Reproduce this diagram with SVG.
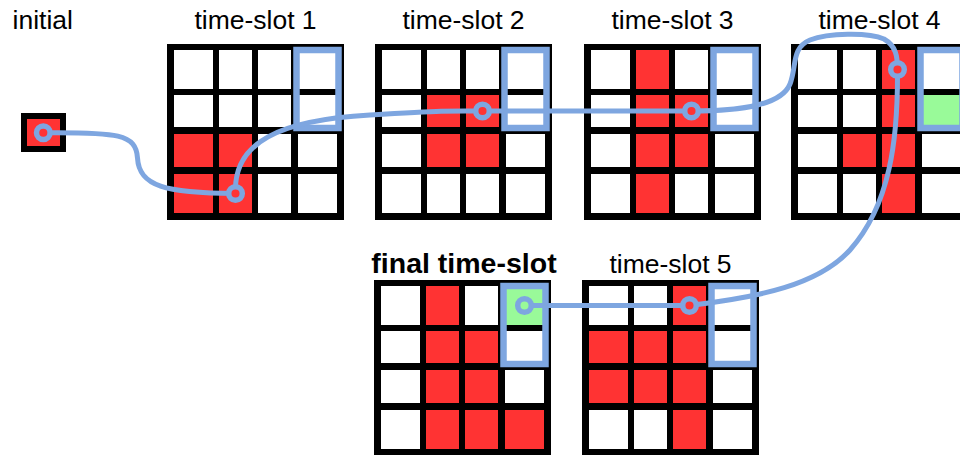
<svg xmlns="http://www.w3.org/2000/svg" width="960" height="455" viewBox="0 0 960 455">
  <style>
    .lbl { font-family: "Liberation Sans", Arial, Helvetica, sans-serif; font-size: 26.5px; fill: #000; }
    .lbl.c { text-anchor: middle; }
    .lbl.b { font-weight: bold; font-size: 28.5px; }
    .frame { fill: #000; }
    .w { fill: #fff; }
    .r { fill: #ff3333; }
    .g { fill: #99fa99; }
    .sel { fill: none; stroke: #7ea6e0; stroke-width: 6.5; }
    .route { fill: none; stroke: #7ea6e0; stroke-width: 5; stroke-linecap: round; stroke-linejoin: round; }
    .stop { stroke: #7ea6e0; stroke-width: 5.5; }
  </style>

  <!-- starting cell -->
  <g id="initial">
    <text class="lbl" x="12.5" y="29">initial</text>
    <rect class="frame" x="21" y="113" width="45" height="39"/>
    <rect class="r" x="27" y="119" width="33" height="27"/>
  </g>

  <!-- 4x4 boards: cols x=7,52,91,131 (w 39,33,33,39); rows y=6,51,90,130 (h 39,32,33,39) -->
  <g id="ts1">
    <text class="lbl c" x="255.5" y="29">time-slot 1</text>
    <g transform="translate(167,44)">
      <rect class="frame" width="177" height="176"/>
      <rect class="w" x="7" y="6" width="39" height="39"/><rect class="w" x="52" y="6" width="33" height="39"/><rect class="w" x="91" y="6" width="33" height="39"/><rect class="w" x="131" y="6" width="39" height="39"/>
      <rect class="w" x="7" y="51" width="39" height="32"/><rect class="w" x="52" y="51" width="33" height="32"/><rect class="w" x="91" y="51" width="33" height="32"/><rect class="w" x="131" y="51" width="39" height="32"/>
      <rect class="r" x="7" y="90" width="39" height="33"/><rect class="r" x="52" y="90" width="33" height="33"/><rect class="w" x="91" y="90" width="33" height="33"/><rect class="w" x="131" y="90" width="39" height="33"/>
      <rect class="r" x="7" y="130" width="39" height="39"/><rect class="r" x="52" y="130" width="33" height="39"/><rect class="w" x="91" y="130" width="33" height="39"/><rect class="w" x="131" y="130" width="39" height="39"/>
      <rect class="sel" x="129.5" y="6" width="42" height="78"/>
    </g>
  </g>

  <g id="ts2">
    <text class="lbl c" x="463.5" y="29">time-slot 2</text>
    <g transform="translate(375,44)">
      <rect class="frame" width="177" height="176"/>
      <rect class="w" x="7" y="6" width="39" height="39"/><rect class="w" x="52" y="6" width="33" height="39"/><rect class="w" x="91" y="6" width="33" height="39"/><rect class="w" x="131" y="6" width="39" height="39"/>
      <rect class="w" x="7" y="51" width="39" height="32"/><rect class="r" x="52" y="51" width="33" height="32"/><rect class="r" x="91" y="51" width="33" height="32"/><rect class="w" x="131" y="51" width="39" height="32"/>
      <rect class="w" x="7" y="90" width="39" height="33"/><rect class="r" x="52" y="90" width="33" height="33"/><rect class="r" x="91" y="90" width="33" height="33"/><rect class="w" x="131" y="90" width="39" height="33"/>
      <rect class="w" x="7" y="130" width="39" height="39"/><rect class="w" x="52" y="130" width="33" height="39"/><rect class="w" x="91" y="130" width="33" height="39"/><rect class="w" x="131" y="130" width="39" height="39"/>
      <rect class="sel" x="129.5" y="6" width="42" height="78"/>
    </g>
  </g>

  <g id="ts3">
    <text class="lbl c" x="672.5" y="29">time-slot 3</text>
    <g transform="translate(584,44)">
      <rect class="frame" width="177" height="176"/>
      <rect class="w" x="7" y="6" width="39" height="39"/><rect class="r" x="52" y="6" width="33" height="39"/><rect class="w" x="91" y="6" width="33" height="39"/><rect class="w" x="131" y="6" width="39" height="39"/>
      <rect class="w" x="7" y="51" width="39" height="32"/><rect class="r" x="52" y="51" width="33" height="32"/><rect class="r" x="91" y="51" width="33" height="32"/><rect class="w" x="131" y="51" width="39" height="32"/>
      <rect class="w" x="7" y="90" width="39" height="33"/><rect class="r" x="52" y="90" width="33" height="33"/><rect class="r" x="91" y="90" width="33" height="33"/><rect class="w" x="131" y="90" width="39" height="33"/>
      <rect class="w" x="7" y="130" width="39" height="39"/><rect class="r" x="52" y="130" width="33" height="39"/><rect class="w" x="91" y="130" width="33" height="39"/><rect class="w" x="131" y="130" width="39" height="39"/>
      <rect class="sel" x="129.5" y="6" width="42" height="78"/>
    </g>
  </g>

  <g id="ts4">
    <text class="lbl c" x="879.5" y="29">time-slot 4</text>
    <g transform="translate(791,44)">
      <rect class="frame" width="177" height="176"/>
      <rect class="w" x="7" y="6" width="39" height="39"/><rect class="w" x="52" y="6" width="33" height="39"/><rect class="r" x="91" y="6" width="33" height="39"/><rect class="w" x="131" y="6" width="39" height="39"/>
      <rect class="w" x="7" y="51" width="39" height="32"/><rect class="w" x="52" y="51" width="33" height="32"/><rect class="r" x="91" y="51" width="33" height="32"/><rect class="g" x="131" y="51" width="39" height="32"/>
      <rect class="w" x="7" y="90" width="39" height="33"/><rect class="r" x="52" y="90" width="33" height="33"/><rect class="r" x="91" y="90" width="33" height="33"/><rect class="w" x="131" y="90" width="39" height="33"/>
      <rect class="w" x="7" y="130" width="39" height="39"/><rect class="w" x="52" y="130" width="33" height="39"/><rect class="r" x="91" y="130" width="33" height="39"/><rect class="w" x="131" y="130" width="39" height="39"/>
      <rect class="sel" x="129.5" y="6" width="42" height="78"/>
    </g>
  </g>

  <g id="ts5">
    <text class="lbl c" x="670.5" y="273">time-slot 5</text>
    <g transform="translate(582,280)">
      <rect class="frame" width="177" height="176"/>
      <rect class="w" x="7" y="6" width="39" height="39"/><rect class="w" x="52" y="6" width="33" height="39"/><rect class="r" x="91" y="6" width="33" height="39"/><rect class="w" x="131" y="6" width="39" height="39"/>
      <rect class="r" x="7" y="51" width="39" height="32"/><rect class="r" x="52" y="51" width="33" height="32"/><rect class="r" x="91" y="51" width="33" height="32"/><rect class="w" x="131" y="51" width="39" height="32"/>
      <rect class="r" x="7" y="90" width="39" height="33"/><rect class="r" x="52" y="90" width="33" height="33"/><rect class="r" x="91" y="90" width="33" height="33"/><rect class="w" x="131" y="90" width="39" height="33"/>
      <rect class="w" x="7" y="130" width="39" height="39"/><rect class="w" x="52" y="130" width="33" height="39"/><rect class="r" x="91" y="130" width="33" height="39"/><rect class="w" x="131" y="130" width="39" height="39"/>
      <rect class="sel" x="129.5" y="6" width="42" height="78"/>
    </g>
  </g>

  <g id="final">
    <text class="lbl c b" x="464" y="273">final time-slot</text>
    <g transform="translate(374,280)">
      <rect class="frame" width="177" height="176"/>
      <rect class="w" x="7" y="6" width="39" height="39"/><rect class="r" x="52" y="6" width="33" height="39"/><rect class="w" x="91" y="6" width="33" height="39"/><rect class="g" x="131" y="6" width="39" height="39"/>
      <rect class="w" x="7" y="51" width="39" height="32"/><rect class="r" x="52" y="51" width="33" height="32"/><rect class="r" x="91" y="51" width="33" height="32"/><rect class="w" x="131" y="51" width="39" height="32"/>
      <rect class="w" x="7" y="90" width="39" height="33"/><rect class="r" x="52" y="90" width="33" height="33"/><rect class="r" x="91" y="90" width="33" height="33"/><rect class="w" x="131" y="90" width="39" height="33"/>
      <rect class="w" x="7" y="130" width="39" height="39"/><rect class="r" x="52" y="130" width="33" height="39"/><rect class="r" x="91" y="130" width="33" height="39"/><rect class="r" x="131" y="130" width="39" height="39"/>
      <rect class="sel" x="129.5" y="6" width="42" height="78"/>
    </g>
  </g>

  <!-- route through the boards, with a ring at each visited cell (ring centre keeps the cell colour) -->
  <g id="connectors">
    <path class="route" d="M43.3,132.7 C118,132 136,134 137.5,158 C139,186 165,193 235.5,193.5"/>
    <path class="route" d="M235.5,193.5 C233,142 280,120 370,115 S450,111 482.5,111"/>
    <path class="route" d="M482.5,111 L691.5,111"/>
    <path class="route" d="M691.5,111 C745,111 782,104 790,84 C797,66 791,48 810,40 C828,33 868,32 884,39 C896,46 897.5,56 897.5,69.5"/>
    <path class="route" d="M897.5,69.5 C898,140 890,205 850,250 C818,285 760,297 689.5,305.5"/>
    <path class="route" d="M689.5,305.5 L524.5,305.5"/>
    <circle class="stop r" cx="43.3" cy="132.7" r="6.8"/>
    <circle class="stop r" cx="235.5" cy="193.5" r="6.8"/>
    <circle class="stop r" cx="482.5" cy="111" r="6.8"/>
    <circle class="stop r" cx="691.5" cy="111" r="6.8"/>
    <circle class="stop r" cx="897.5" cy="69.5" r="6.8"/>
    <circle class="stop r" cx="689.5" cy="305.5" r="6.8"/>
    <circle class="stop g" cx="524.5" cy="305.5" r="6.8"/>
  </g>
</svg>
